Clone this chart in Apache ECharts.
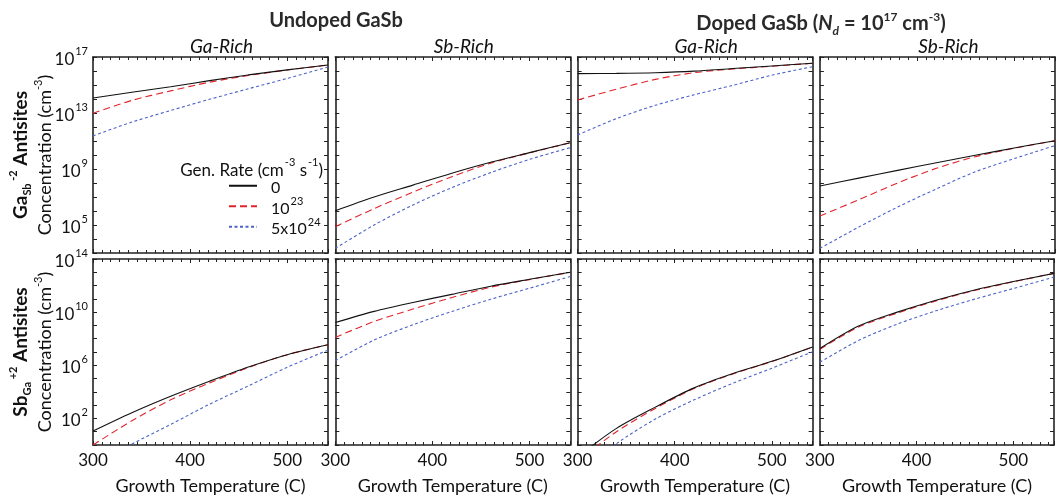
<!DOCTYPE html>
<html>
<head>
<meta charset="utf-8">
<script src="https://cdn.jsdelivr.net/npm/echarts@6/dist/echarts.min.js"></script>
<style>
html,body{margin:0;padding:0;background:#fff;}
#chart{width:1057px;height:496px;}
</style>
</head>
<body>
<div id="chart"></div>
<script>
// Growth temperatures (C) at which curves were read
const temps = [300, 340, 380, 420, 460, 500, 542];
// Generation rates (series names)
const genRates = ['0', '1e23', '5e24'];
const genRateLabels = ['{n0|0}', '{n0|10}{s|23}', '{n0|5x10}{s|24}'];
// x tick labels
const xTicks = [300, 400, 500];

// log10 of concentration (cm^-3)
// Top row: Ga_Sb^-2 antisites
const undopedGaRich_GaSb_g0   = [14.07, 14.48, 14.87, 15.31, 15.72, 16.08, 16.43];
const undopedGaRich_GaSb_g23  = [12.98, 13.90, 14.58, 15.20, 15.68, 16.07, 16.43];
const undopedGaRich_GaSb_g524 = [11.36, 12.35, 13.18, 13.98, 14.73, 15.47, 16.29];
const undopedSbRich_GaSb_g0   = [6.02, 7.00, 7.85, 8.70, 9.48, 10.17, 10.88];
const undopedSbRich_GaSb_g23  = [4.88, 6.17, 7.35, 8.45, 9.42, 10.15, 10.88];
const undopedSbRich_GaSb_g524 = [3.33, 5.00, 6.43, 7.67, 8.74, 9.69, 10.52];
const dopedGaRich_GaSb_g0     = [15.81, 15.83, 15.88, 15.99, 16.18, 16.36, 16.55];
const dopedGaRich_GaSb_g23    = [13.93, 14.70, 15.40, 15.88, 16.14, 16.34, 16.55];
const dopedGaRich_GaSb_g524   = [11.43, 12.60, 13.55, 14.30, 14.98, 15.70, 16.31];
const dopedSbRich_GaSb_g0     = [7.79, 8.35, 8.90, 9.45, 9.98, 10.50, 11.02];
const dopedSbRich_GaSb_g23    = [5.64, 6.80, 8.00, 9.05, 9.88, 10.48, 11.02];
const dopedSbRich_GaSb_g524   = [3.33, 4.85, 6.28, 7.58, 8.80, 9.74, 10.67];
// Bottom row: Sb_Ga^+2 antisites
const undopedGaRich_SbGa_g0   = [1.05, 2.43, 3.67, 4.80, 5.87, 6.80, 7.55];
const undopedGaRich_SbGa_g23  = [0.00, 1.82, 3.40, 4.67, 5.83, 6.80, 7.55];
const undopedGaRich_SbGa_g524 = [-1.50, 0.07, 1.55, 3.07, 4.45, 5.85, 7.14];
const undopedSbRich_SbGa_g0   = [9.22, 10.06, 10.73, 11.34, 11.95, 12.47, 13.00];
const undopedSbRich_SbGa_g23  = [8.10, 9.30, 10.23, 11.10, 11.88, 12.45, 13.00];
const undopedSbRich_SbGa_g524 = [6.35, 7.90, 9.05, 10.05, 10.97, 11.80, 12.68];
const dopedGaRich_SbGa_g0     = [-0.90, 1.25, 2.85, 4.30, 5.38, 6.30, 7.38];
const dopedGaRich_SbGa_g23    = [-1.20, 1.00, 2.75, 4.25, 5.35, 6.28, 7.38];
const dopedGaRich_SbGa_g524   = [-2.20, 0.10, 1.95, 3.40, 4.65, 5.78, 7.02];
const dopedSbRich_SbGa_g0     = [7.26, 8.95, 10.00, 10.90, 11.67, 12.30, 12.92];
const dopedSbRich_SbGa_g23    = [7.20, 8.88, 9.93, 10.85, 11.63, 12.28, 12.92];
const dopedSbRich_SbGa_g524   = [6.23, 7.87, 9.10, 10.10, 10.98, 11.78, 12.64];

const panelData = [
  [undopedGaRich_GaSb_g0, undopedGaRich_GaSb_g23, undopedGaRich_GaSb_g524],
  [undopedSbRich_GaSb_g0, undopedSbRich_GaSb_g23, undopedSbRich_GaSb_g524],
  [dopedGaRich_GaSb_g0, dopedGaRich_GaSb_g23, dopedGaRich_GaSb_g524],
  [dopedSbRich_GaSb_g0, dopedSbRich_GaSb_g23, dopedSbRich_GaSb_g524],
  [undopedGaRich_SbGa_g0, undopedGaRich_SbGa_g23, undopedGaRich_SbGa_g524],
  [undopedSbRich_SbGa_g0, undopedSbRich_SbGa_g23, undopedSbRich_SbGa_g524],
  [dopedGaRich_SbGa_g0, dopedGaRich_SbGa_g23, dopedGaRich_SbGa_g524],
  [dopedSbRich_SbGa_g0, dopedSbRich_SbGa_g23, dopedSbRich_SbGa_g524]
];
// y ranges (log10) per row
const rowYMinExp = [3, 0];
const rowYMaxExp = [17, 14];

const FONT = 'Lato, "Open Sans", sans-serif';
const colors = ['#111111', '#e0242b', '#4d63c9'];
const dashes = ['solid', [7, 4], [3, 2.5]];
const AX = '#222';

const gridLefts = [93, 335.3, 577.6, 819.9];
const gridTops = [57, 259];
const GW = 235, GH = 196;

const grids = [], xAxes = [], yAxes = [], series = [];
const supRich = {
  n: {fontFamily: FONT, fontSize: 17, fontWeight: 'normal', color: '#111', lineHeight: 22, verticalAlign: 'bottom'},
  s: {fontFamily: FONT, fontSize: 11, fontWeight: 'normal', color: '#111', lineHeight: 22, verticalAlign: 'top', padding: [0, 0, 0, 1]}
};

for (let r = 0; r < 2; r++) {
  for (let c = 0; c < 4; c++) {
    const gi = r * 4 + c;
    grids.push({left: gridLefts[c], top: gridTops[r], width: GW, height: GH, containLabel: false});
    const common = {
      gridIndex: gi, type: 'value', min: 300, max: 542, interval: 100,
      axisLine: {show: true, onZero: false, lineStyle: {color: AX, width: 1.6}},
      axisTick: {show: true, inside: true, length: 4, lineStyle: {color: AX, width: 1}},
      minorTick: {show: true, splitNumber: 11, length: 3, lineStyle: {color: AX, width: 1}},
      splitLine: {show: false}, minorSplitLine: {show: false}
    };
    xAxes.push(Object.assign({}, common, {
      position: 'bottom',
      axisLabel: {show: r === 1, margin: 7, fontFamily: FONT, fontSize: 17, color: '#111',
        formatter: v => (xTicks.indexOf(v) >= 0 ? String(v) : '')},
      name: r === 1 ? 'Growth Temperature (C)' : '',
      nameLocation: 'middle', nameGap: 32,
      nameTextStyle: {fontFamily: FONT, fontSize: 18, color: '#111'}
    }));
    xAxes.push(Object.assign({}, common, {position: 'top', axisLabel: {show: false}}));
    const ycommon = {
      gridIndex: gi, type: 'log', logBase: 10,
      min: Math.pow(10, rowYMinExp[r]), max: Math.pow(10, rowYMaxExp[r]), interval: 1,
      axisLine: {show: true, lineStyle: {color: AX, width: 1.6}},
      axisTick: {show: true, inside: true, length: 4, lineStyle: {color: AX, width: 1}},
      minorTick: {show: false},
      splitLine: {show: false}
    };
    const yName = r === 0
      ? '{b|Ga}{bsub|Sb}{bsup| -2}{b| Antisites}\n{n|Concentration (cm}{nsup|-3}{n|)}'
      : '{b|Sb}{bsub|Ga}{bsup| +2}{b| Antisites}\n{n|Concentration (cm}{nsup|-3}{n|)}';
    yAxes.push(Object.assign({}, ycommon, {
      position: 'left',
      axisLabel: {
        show: c === 0, margin: 5,
        formatter: function (v) {
          const e = Math.round(Math.log10(v));
          if ((rowYMaxExp[r] - e) % 4 !== 0) return '';
          return '{n|10}{s|' + e + '}';
        },
        rich: supRich
      },
      name: c === 0 ? yName : '',
      nameLocation: 'middle', nameRotate: 90, nameGap: 35, nameMoveOverlap: false,
      nameTextStyle: {
        rich: {
          b: {fontFamily: FONT, fontSize: 19, fontWeight: 'bold', color: '#111', lineHeight: 25, verticalAlign: 'middle'},
          bsub: {fontFamily: FONT, fontSize: 11, fontWeight: 'bold', color: '#111', lineHeight: 25, verticalAlign: 'bottom'},
          bsup: {fontFamily: FONT, fontSize: 11, fontWeight: 'bold', color: '#111', lineHeight: 25, verticalAlign: 'top'},
          n: {fontFamily: FONT, fontSize: 18, color: '#111', lineHeight: 25, verticalAlign: 'middle'},
          nsup: {fontFamily: FONT, fontSize: 11, color: '#111', lineHeight: 25, verticalAlign: 'top'}
        }
      }
    }));
    yAxes.push(Object.assign({}, ycommon, {position: 'right', axisLabel: {show: false}}));

    for (let k = 0; k < 3; k++) {
      series.push({
        type: 'line', name: genRates[k],
        xAxisIndex: gi * 2, yAxisIndex: gi * 2,
        data: temps.map((t, j) => [t, Math.pow(10, panelData[gi][k][j])]),
        showSymbol: false, symbol: 'none', smooth: 0.3, clip: true,
        lineStyle: {color: colors[k], width: 1.1, type: dashes[k]},
        itemStyle: {color: colors[k]},
        z: 3 - k, silent: true, animation: false
      });
    }
  }
}

const colCenters = gridLefts.map(l => l + GW / 2 + 6);
const titleStyle = {fontFamily: FONT, fontSize: 20, fontWeight: 'bold', color: '#2a2a2a'};
const subStyle = {fontFamily: FONT, fontSize: 19, fontStyle: 'italic', fontWeight: 'normal', color: '#111'};

const option = {
  backgroundColor: '#fff',
  animation: false,
  grid: grids,
  xAxis: xAxes,
  yAxis: yAxes,
  series: series,
  title: [
    {text: 'Undoped GaSb', left: 331, top: 6, textAlign: 'center', textStyle: titleStyle},
    {text: '{t|Doped GaSb (}{ti|N}{tsub|d}{t| = 10}{tsup|17}{t| cm}{tsup|-3}{t|)}', left: 816, top: 6, textAlign: 'center',
      textStyle: {rich: {
        t: {fontFamily: FONT, fontSize: 20, fontWeight: 'bold', color: '#2a2a2a', lineHeight: 26, verticalAlign: 'middle'},
        ti: {fontFamily: FONT, fontSize: 20, fontWeight: 'bold', fontStyle: 'italic', color: '#2a2a2a', lineHeight: 26, verticalAlign: 'middle'},
        tsub: {fontFamily: FONT, fontSize: 12, fontWeight: 'bold', fontStyle: 'italic', color: '#2a2a2a', lineHeight: 26, verticalAlign: 'bottom'},
        tsup: {fontFamily: FONT, fontSize: 12, fontWeight: 'bold', color: '#2a2a2a', lineHeight: 26, verticalAlign: 'top'}
      }}},
    {text: 'Ga-Rich', left: colCenters[0], top: 32, textAlign: 'center', textStyle: subStyle},
    {text: 'Sb-Rich', left: colCenters[1], top: 32, textAlign: 'center', textStyle: subStyle},
    {text: 'Ga-Rich', left: colCenters[2], top: 32, textAlign: 'center', textStyle: subStyle},
    {text: 'Sb-Rich', left: colCenters[3], top: 32, textAlign: 'center', textStyle: subStyle},
    {text: '{n|Gen. Rate (cm}{s|-3}{n| s}{s|-1}{n|)}', left: 318, top: 152, textAlign: 'right',
      textStyle: {fontWeight: 'normal', rich: supRich}}
  ],
  legend: {
    data: genRates,
    orient: 'vertical', left: 228, top: 180, padding: 0,
    itemWidth: 28, itemHeight: 12, itemGap: 0,
    selectedMode: false,
    itemStyle: {opacity: 0, borderWidth: 0},
    formatter: name => genRateLabels[genRates.indexOf(name)],
    textStyle: {
      rich: {
        n0: {fontFamily: FONT, fontSize: 16, color: '#111', lineHeight: 20.5, verticalAlign: 'bottom', padding: [0, 0, 0, 9]},
        s: {fontFamily: FONT, fontSize: 11, color: '#111', lineHeight: 20.5, verticalAlign: 'top', padding: [0, 0, 0, 1]}
      }
    }
  }
};

const chart = echarts.init(document.getElementById('chart'), null, {renderer: 'canvas'});
chart.setOption(option);
</script>
</body>
</html>
